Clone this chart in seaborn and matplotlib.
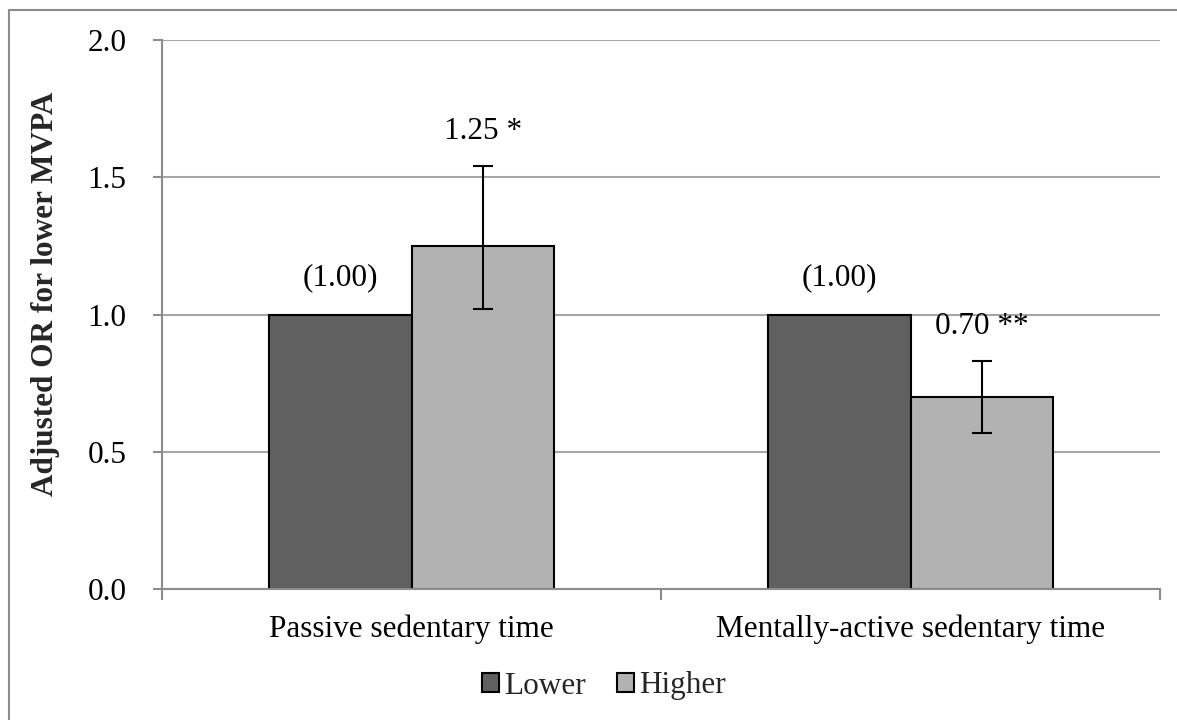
import matplotlib
matplotlib.use("Agg")
import matplotlib.pyplot as plt
import seaborn as sns
import pandas as pd
import numpy as np
from matplotlib.patches import Rectangle

categories = ["Passive sedentary time", "Mentally-active sedentary time"]
groups = ["Lower", "Higher"]
lower_vals = [1.00, 1.00]
higher_vals = [1.25, 0.70]
higher_ci_low = [1.02, 0.57]
higher_ci_high = [1.54, 0.83]
lower_labels = ["(1.00)", "(1.00)"]
higher_labels = ["1.25 *", "0.70 **"]
yticks = [0.0, 0.5, 1.0, 1.5, 2.0]

sns.set_theme(style="white")
plt.rcParams["font.family"] = ["Liberation Serif", "DejaVu Serif"]

df = pd.DataFrame({
    "category": categories * 2,
    "group": [groups[0]] * 2 + [groups[1]] * 2,
    "value": lower_vals + higher_vals,
})

fig = plt.figure(figsize=(11.77, 7.2), dpi=100)
ax = fig.add_axes([162 / 1177, 1 - 589 / 720, (1160 - 162) / 1177, (589 - 40) / 720])

palette = {"Lower": "#606060", "Higher": "#b2b2b2"}
sns.barplot(data=df, x="category", y="value", hue="group", order=categories,
            hue_order=groups, palette=palette, width=0.57, dodge=True,
            edgecolor="black", linewidth=1.5, errorbar=None, ax=ax, legend=True, saturation=1)

ax.set_xlim(-0.5, 1.5)
ax.set_ylim(0, 2.0)
ax.set_yticks(yticks)
ax.set_yticklabels([f"{t:.1f}" for t in yticks], fontsize=22.5)
ax.yaxis.grid(True, color="#a6a6a6", linewidth=1.5)
ax.set_axisbelow(True)

bars = ax.patches
lower_bars = [b for b in bars if np.isclose(b.get_facecolor()[0], 0x60 / 255, atol=0.02)][:2]
higher_bars = [b for b in bars if np.isclose(b.get_facecolor()[0], 0xb2 / 255, atol=0.02)][:2]
lower_bars.sort(key=lambda b: b.get_x())
higher_bars.sort(key=lambda b: b.get_x())

for b, v, lab in zip(lower_bars, lower_vals, lower_labels):
    cx = b.get_x() + b.get_width() / 2
    ax.text(cx, v + 0.135, lab, ha="center", va="center", fontsize=22.5, color="black")

for b, v, lo, hi, lab in zip(higher_bars, higher_vals, higher_ci_low, higher_ci_high, higher_labels):
    cx = b.get_x() + b.get_width() / 2
    ax.errorbar([cx], [v], yerr=[[v - lo], [hi - v]], fmt="none", ecolor="black",
                elinewidth=1.5, capsize=7, capthick=1.5, zorder=5)
    ax.text(cx, hi + 0.125, lab, ha="center", va="center", fontsize=22.5, color="black")

for s in ["top", "right"]:
    ax.spines[s].set_visible(False)
for s in ["left", "bottom"]:
    ax.spines[s].set_color("#8c8c8c")
    ax.spines[s].set_linewidth(1.5)

ax.tick_params(axis="y", which="major", left=True, length=6.5, width=1.5, color="#8c8c8c", pad=19)
ax.tick_params(axis="x", which="major", bottom=False, labelsize=22.5, pad=12)
ax.set_xticks([-0.5, 0.5, 1.5], minor=True)
ax.tick_params(axis="x", which="minor", bottom=True, length=8, width=1.5, color="#8c8c8c")
ax.set_xlabel("")
ax.set_ylabel("Adjusted OR for lower MVPA", fontsize=22.5, fontweight="bold")
ax.yaxis.set_label_coords((60 - 162) / 998, (589 - 294) / 549)
for t in ax.get_xticklabels():
    t.set_fontsize(22.5)
    t.set_color("black")
for t in ax.get_yticklabels():
    t.set_color("black")

handles, labels = ax.get_legend_handles_labels()
ax.get_legend().remove()
fig.legend(handles, labels, loc="center", bbox_to_anchor=(604 / 1177, 1 - 686 / 720), ncol=2,
           frameon=False, fontsize=22.5, handlelength=0.55, handleheight=0.55,
           handletextpad=0.15, columnspacing=1.0)

fig.patches.append(Rectangle((9 / 1177, -0.1), 1.2, 1.1 - 10 / 720,
                             transform=fig.transFigure, fill=False, edgecolor="#8c8c8c",
                             linewidth=1.5))

fig.savefig("out.png", dpi=100)
